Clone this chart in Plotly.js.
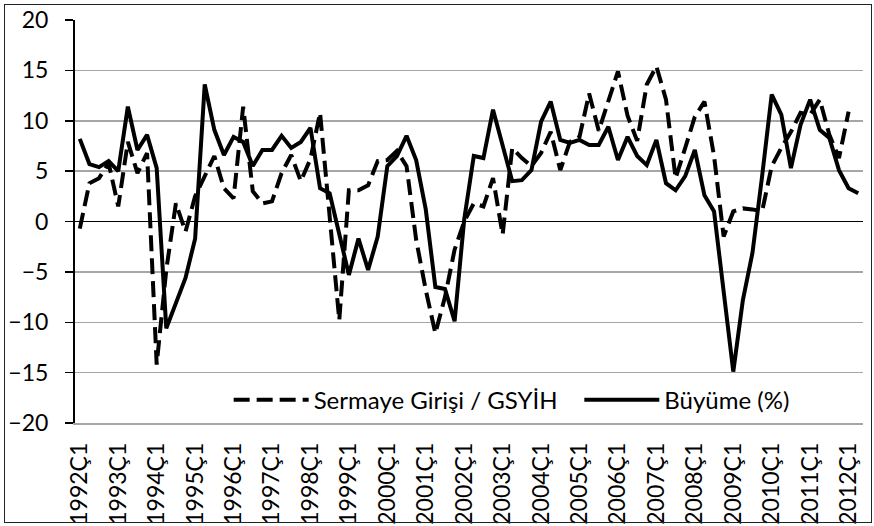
<!DOCTYPE html>
<html>
<head>
<meta charset="utf-8">
<script src="https://cdn.plot.ly/plotly-3.0.1.min.js"></script>
<style>
  html, body { margin: 0; padding: 0; background: #fff; }
  #wrap { position: relative; width: 874px; height: 526px; }
  #chart { width: 874px; height: 526px; }
  #frame { position: absolute; left: 4px; top: 4px; width: 866px; height: 517px; border: 1.5px solid #222; pointer-events: none; }
</style>
</head>
<body>
<div id="wrap">
  <div id="chart"></div>
  <div id="frame"></div>
</div>
<script>
// Quarter categories (1992Ç1 ... 2012Ç2)
const categories = [
  "1992Ç1","1992Ç2","1992Ç3","1992Ç4","1993Ç1","1993Ç2","1993Ç3","1993Ç4",
  "1994Ç1","1994Ç2","1994Ç3","1994Ç4","1995Ç1","1995Ç2","1995Ç3","1995Ç4",
  "1996Ç1","1996Ç2","1996Ç3","1996Ç4","1997Ç1","1997Ç2","1997Ç3","1997Ç4",
  "1998Ç1","1998Ç2","1998Ç3","1998Ç4","1999Ç1","1999Ç2","1999Ç3","1999Ç4",
  "2000Ç1","2000Ç2","2000Ç3","2000Ç4","2001Ç1","2001Ç2","2001Ç3","2001Ç4",
  "2002Ç1","2002Ç2","2002Ç3","2002Ç4","2003Ç1","2003Ç2","2003Ç3","2003Ç4",
  "2004Ç1","2004Ç2","2004Ç3","2004Ç4","2005Ç1","2005Ç2","2005Ç3","2005Ç4",
  "2006Ç1","2006Ç2","2006Ç3","2006Ç4","2007Ç1","2007Ç2","2007Ç3","2007Ç4",
  "2008Ç1","2008Ç2","2008Ç3","2008Ç4","2009Ç1","2009Ç2","2009Ç3","2009Ç4",
  "2010Ç1","2010Ç2","2010Ç3","2010Ç4","2011Ç1","2011Ç2","2011Ç3","2011Ç4",
  "2012Ç1","2012Ç2"
];

// Tick labels shown on the axis (every first quarter)
const tickLabels = [
  "1992Ç1","1993Ç1","1994Ç1","1995Ç1","1996Ç1","1997Ç1","1998Ç1",
  "1999Ç1","2000Ç1","2001Ç1","2002Ç1","2003Ç1","2004Ç1","2005Ç1",
  "2006Ç1","2007Ç1","2008Ç1","2009Ç1","2010Ç1","2011Ç1","2012Ç1"
];

// Sermaye Girişi / GSYİH (dashed)
const capitalInflow = [
  -0.7, 3.8, 4.3, 5.8, 1.5, 7.9, 4.8, 6.8, -14.2, -4.8,
  1.8, -1.0, 2.5, 4.6, 6.5, 3.3, 2.3, 11.4, 3.0, 1.8,
  2.0, 4.8, 6.6, 4.0, 6.2, 10.8, 1.0, -9.8, 3.1, 3.1,
  3.6, 6.0, 6.1, 7.0, 5.5, -1.8, -6.8, -11.1, -7.5, -2.8,
  0.0, 1.8, 1.5, 4.3, -1.3, 7.3, 6.3, 5.5, 6.8, 8.9,
  5.1, 7.9, 8.4, 12.7, 9.0, 12.0, 14.9, 10.5, 8.0, 13.6,
  15.4, 12.1, 4.3, 7.3, 10.4, 11.9, 6.5, -1.5, 1.0, 1.3,
  1.2, 1.0, 5.5, 7.3, 8.9, 10.8, 10.6, 12.1, 8.6, 6.3,
  10.9
];

// Büyüme (%) (solid)
const growth = [
  8.2, 5.7, 5.4, 6.0, 5.0, 11.4, 7.1, 8.6, 5.3, -10.6,
  -8.1, -5.6, -1.7, 13.6, 9.1, 6.6, 8.4, 7.9, 5.5, 7.1,
  7.1, 8.5, 7.3, 7.9, 9.3, 3.3, 2.8, -1.2, -5.3, -1.7,
  -4.8, -1.5, 5.5, 6.5, 8.5, 6.1, 1.2, -6.5, -6.7, -9.9,
  0.2, 6.5, 6.3, 11.1, 7.5, 4.0, 4.1, 5.1, 9.9, 11.9,
  8.1, 7.8, 8.1, 7.6, 7.6, 9.4, 6.1, 8.4, 6.5, 5.6,
  8.1, 3.8, 3.1, 4.5, 7.1, 2.6, 1.0, -7.0, -14.9, -7.8,
  -3.1, 4.5, 12.6, 10.6, 5.3, 9.6, 12.1, 9.1, 8.3, 5.1,
  3.3, 2.8
];

const FONT = "Lato, 'Open Sans', sans-serif";

const traces = [
  {
    type: "scatter", mode: "lines", name: "Sermaye Girişi / GSYİH",
    x: categories.slice(0, capitalInflow.length), y: capitalInflow,
    line: { color: "#000", width: 4, dash: "16px,7px" },
    legend: "legend"
  },
  {
    type: "scatter", mode: "lines", name: "Büyüme (%)",
    x: categories, y: growth,
    line: { color: "#000", width: 4 },
    legend: "legend2"
  }
];

const legendStyle = {
  orientation: "h", yanchor: "middle", xanchor: "left", y: 0.057,
  bgcolor: "rgba(0,0,0,0)", font: { family: FONT, size: 24, color: "#000" },
  itemwidth: 75
};

const layout = {
  width: 874, height: 526,
  margin: { l: 75, r: 11, t: 20, b: 103 },
  paper_bgcolor: "#fff", plot_bgcolor: "#fff",
  font: { family: FONT, size: 23, color: "#000" },
  showlegend: true,
  legend: Object.assign({}, legendStyle, { x: 0.195 }),
  legend2: Object.assign({}, legendStyle, { x: 0.64 }),
  xaxis: {
    type: "category", categoryorder: "array", categoryarray: categories,
    range: [-0.5, categories.length - 0.5],
    tickmode: "array", tickvals: tickLabels, ticktext: tickLabels,
    tickangle: -90, ticks: "", showgrid: false, zeroline: false,
    showline: true, linecolor: "#a6a6a6", linewidth: 1.5,
    ticklabelstandoff: 9,
    tickfont: { family: FONT, size: 23, color: "#000" }
  },
  yaxis: {
    range: [-20, 20], tickmode: "linear", tick0: -20, dtick: 5,
    showgrid: true, gridcolor: "#a6a6a6", gridwidth: 1.5,
    zeroline: true, zerolinecolor: "#000", zerolinewidth: 1.5,
    showline: true, linecolor: "#000", linewidth: 2,
    ticks: "outside", ticklen: 8, tickwidth: 1.5, tickcolor: "#000",
    ticklabelstandoff: 12,
    tickfont: { family: FONT, size: 23, color: "#000" }
  }
};

Plotly.newPlot("chart", traces, layout, { displayModeBar: false, staticPlot: true });
</script>
</body>
</html>
